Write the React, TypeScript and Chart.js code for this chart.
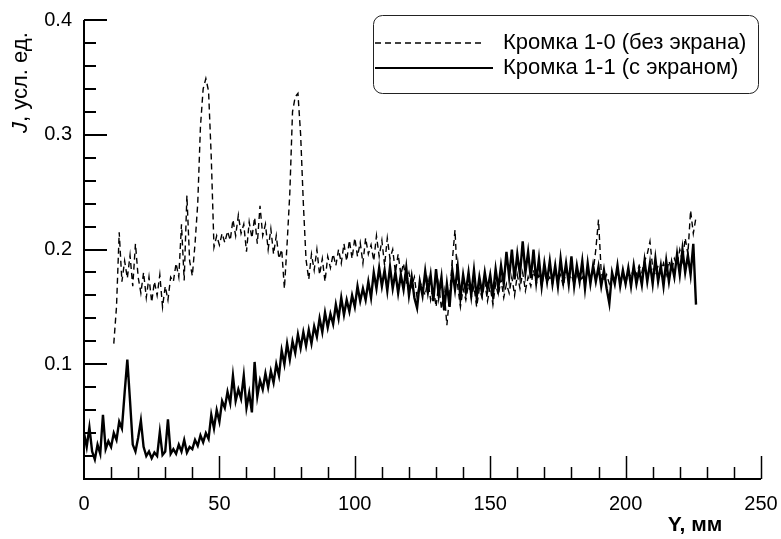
import { useEffect, useRef } from "react";
import { Chart, registerables } from "chart.js";

Chart.register(...registerables);

// Y position (mm) of first sample of each series, and sampling step (mm)
const solidStartMm = 0;
const dashedStartMm = 11;
const stepMm = 1;

// Кромка 1-1 (с экраном), J values at 0,1,2,... mm
const solidValues = [
  0.040, 0.028, 0.045, 0.024, 0.017, 0.030, 0.022, 0.056, 0.026, 0.033,
  0.028, 0.040, 0.034, 0.050, 0.044, 0.075, 0.104, 0.068, 0.030, 0.024,
  0.036, 0.051, 0.028, 0.020, 0.024, 0.018, 0.023, 0.020, 0.041, 0.021,
  0.024, 0.052, 0.022, 0.026, 0.022, 0.030, 0.024, 0.034, 0.023, 0.028,
  0.026, 0.034, 0.029, 0.038, 0.032, 0.040, 0.035, 0.056, 0.044, 0.060,
  0.050, 0.068, 0.062, 0.076, 0.066, 0.090, 0.068, 0.078, 0.070, 0.090,
  0.062, 0.075, 0.058, 0.102, 0.072, 0.086, 0.078, 0.092, 0.080, 0.094,
  0.084, 0.100, 0.090, 0.112, 0.100, 0.118, 0.104, 0.120, 0.110, 0.126,
  0.114, 0.128, 0.116, 0.130, 0.118, 0.133, 0.124, 0.140, 0.128, 0.145,
  0.132, 0.144, 0.135, 0.152, 0.140, 0.158, 0.143, 0.156, 0.146, 0.160,
  0.150, 0.168, 0.155, 0.166, 0.156, 0.172, 0.158, 0.180, 0.166, 0.184,
  0.168, 0.182, 0.164, 0.185, 0.166, 0.180, 0.162, 0.178, 0.165, 0.184,
  0.160, 0.176, 0.158, 0.149, 0.172, 0.160, 0.181, 0.163, 0.178, 0.155,
  0.183, 0.160, 0.176, 0.147, 0.170, 0.150, 0.182, 0.165, 0.185, 0.158,
  0.178, 0.163, 0.180, 0.160, 0.182, 0.158, 0.176, 0.162, 0.180, 0.165,
  0.178, 0.160, 0.183, 0.166, 0.186, 0.170, 0.198, 0.176, 0.200, 0.174,
  0.196, 0.178, 0.207, 0.180, 0.198, 0.175, 0.200, 0.172, 0.192, 0.168,
  0.188, 0.172, 0.190, 0.170, 0.186, 0.168, 0.192, 0.172, 0.188, 0.170,
  0.194, 0.168, 0.186, 0.172, 0.190, 0.166, 0.188, 0.170, 0.186, 0.172,
  0.185, 0.168, 0.182, 0.166, 0.153, 0.180, 0.170, 0.186, 0.168, 0.182,
  0.170, 0.184, 0.168, 0.186, 0.170, 0.182, 0.169, 0.190, 0.172, 0.188,
  0.170, 0.192, 0.172, 0.186, 0.168, 0.190, 0.172, 0.188, 0.176, 0.196,
  0.178, 0.200, 0.180, 0.195, 0.178, 0.205, 0.152,
];

// Кромка 1-0 (без экрана), J values at 11,12,13,... mm
const dashedValues = [
  0.118, 0.150, 0.215, 0.172, 0.190, 0.175, 0.195, 0.168, 0.205, 0.176,
  0.162, 0.180, 0.158, 0.176, 0.154, 0.172, 0.160, 0.178, 0.150, 0.168,
  0.156, 0.176, 0.172, 0.188, 0.176, 0.222, 0.173, 0.247, 0.190, 0.177,
  0.205, 0.240, 0.307, 0.340, 0.349, 0.338, 0.280, 0.202, 0.212, 0.204,
  0.214, 0.206, 0.216, 0.208, 0.226, 0.212, 0.230, 0.214, 0.222, 0.198,
  0.224, 0.210, 0.228, 0.205, 0.238, 0.212, 0.222, 0.200, 0.218, 0.196,
  0.212, 0.192, 0.200, 0.166, 0.205, 0.249, 0.320, 0.333, 0.336, 0.300,
  0.240, 0.191, 0.174, 0.196, 0.182, 0.200, 0.178, 0.192, 0.172, 0.194,
  0.184, 0.196, 0.186, 0.200, 0.188, 0.205, 0.190, 0.208, 0.192, 0.210,
  0.194, 0.206, 0.188, 0.210, 0.196, 0.204, 0.190, 0.212, 0.194, 0.208,
  0.186, 0.210, 0.192, 0.200, 0.180, 0.196, 0.178, 0.188, 0.170, 0.180,
  0.168, 0.176, 0.158, 0.172, 0.166, 0.160, 0.174, 0.156, 0.168, 0.150,
  0.170, 0.148, 0.164, 0.134, 0.160, 0.190, 0.217, 0.168, 0.150, 0.166,
  0.156, 0.170, 0.158, 0.168, 0.150, 0.166, 0.158, 0.172, 0.155, 0.168,
  0.152, 0.170, 0.160, 0.174, 0.158, 0.170, 0.162, 0.176, 0.160, 0.178,
  0.166, 0.180, 0.164, 0.176, 0.168, 0.182, 0.170, 0.178, 0.168, 0.180,
  0.172, 0.176, 0.170, 0.182, 0.172, 0.178, 0.168, 0.182, 0.174, 0.178,
  0.170, 0.180, 0.172, 0.176, 0.170, 0.182, 0.174, 0.180, 0.200, 0.226,
  0.180, 0.172, 0.178, 0.170, 0.176, 0.172, 0.180, 0.174, 0.178, 0.170,
  0.180, 0.176, 0.184, 0.178, 0.186, 0.180, 0.190, 0.196, 0.207, 0.184,
  0.178, 0.186, 0.180, 0.188, 0.178, 0.190, 0.182, 0.192, 0.186, 0.200,
  0.190, 0.210, 0.196, 0.234, 0.214, 0.228,
];

const xMin = 0;
const xMax = 250;
const xMajorStep = 50;
const xMinorStep = 10;
const yMin = 0;
const yMax = 0.4;
const yMajorStep = 0.1;
const yMinorStep = 0.02;

const legendLabels = ["Кромка 1-0 (без экрана)", "Кромка 1-1 (с экраном)"];
const xTitle = "Y, мм";
const yTitleItalic = "J";
const yTitleRest = ", усл. ед.";

const FONT = "'Liberation Sans', Arial, sans-serif";

const toPoints = (start: number, vals: number[]) =>
  vals.map((v, i) => ({ x: start + i * stepMm, y: v }));

const decorPlugin = {
  id: "decor",
  afterDraw(chart: any) {
    const { ctx, chartArea } = chart;
    const xs = chart.scales.x;
    const ys = chart.scales.y;
    const left = xs.getPixelForValue(xMin);
    const right = xs.getPixelForValue(xMax);
    const bottom = ys.getPixelForValue(yMin);
    const top = ys.getPixelForValue(yMax);
    ctx.save();
    ctx.strokeStyle = "#000";
    ctx.lineWidth = 2;
    ctx.beginPath();
    ctx.moveTo(left, top);
    ctx.lineTo(left, bottom);
    ctx.lineTo(right, bottom);
    ctx.stroke();

    // x ticks (inside, pointing up)
    ctx.lineWidth = 1.5;
    const nx = Math.round((xMax - xMin) / xMinorStep);
    for (let k = 1; k <= nx; k++) {
      const v = xMin + k * xMinorStep;
      const px = Math.round(xs.getPixelForValue(v)) + 0.5;
      const major = Math.abs(v / xMajorStep - Math.round(v / xMajorStep)) < 1e-6;
      const len = major ? 23 : 12;
      ctx.beginPath();
      ctx.moveTo(px, bottom);
      ctx.lineTo(px, bottom - len);
      ctx.stroke();
    }
    // y ticks (inside, pointing right)
    ctx.lineWidth = 2;
    const ny = Math.round((yMax - yMin) / yMinorStep);
    for (let k = 1; k <= ny; k++) {
      const v = yMin + k * yMinorStep;
      const py = Math.round(ys.getPixelForValue(v));
      const major = k % Math.round(yMajorStep / yMinorStep) === 0;
      const len = major ? 23 : 12;
      ctx.beginPath();
      ctx.moveTo(left, py);
      ctx.lineTo(left + len, py);
      ctx.stroke();
    }

    // y title (rotated)
    ctx.fillStyle = "#000";
    ctx.save();
    ctx.translate(left - 63, top + 113);
    ctx.rotate(-Math.PI / 2);
    ctx.textBaseline = "middle";
    ctx.textAlign = "left";
    ctx.font = `italic 22px ${FONT}`;
    ctx.fillText(yTitleItalic, 0, 0);
    const w = ctx.measureText(yTitleItalic).width;
    ctx.font = `22px ${FONT}`;
    ctx.fillText(yTitleRest, w, 0);
    ctx.restore();

    // x title
    ctx.font = `bold 21px ${FONT}`;
    ctx.textAlign = "center";
    ctx.textBaseline = "middle";
    ctx.fillText(xTitle, right - 66, bottom + 46);

    // legend box
    const bx = chartArea.right - 388;
    const by = chartArea.top - 5;
    const bw = 385;
    const bh = 78;
    ctx.lineWidth = 1;
    ctx.strokeStyle = "#222";
    ctx.beginPath();
    (ctx as any).roundRect(bx + 0.5, by + 0.5, bw, bh, 9);
    ctx.stroke();

    ctx.strokeStyle = "#000";
    ctx.lineWidth = 1.3;
    ctx.setLineDash([6, 4]);
    ctx.beginPath();
    ctx.moveTo(bx + 2, by + 28);
    ctx.lineTo(bx + 108, by + 28);
    ctx.stroke();
    ctx.setLineDash([]);
    ctx.lineWidth = 2;
    ctx.beginPath();
    ctx.moveTo(bx + 2, by + 53);
    ctx.lineTo(bx + 120, by + 53);
    ctx.stroke();

    ctx.font = `22px ${FONT}`;
    ctx.textAlign = "left";
    ctx.textBaseline = "middle";
    ctx.fillText(legendLabels[0], bx + 130, by + 28);
    ctx.fillText(legendLabels[1], bx + 130, by + 53);
    ctx.restore();
  },
};

export default function App() {
  const ref = useRef<HTMLCanvasElement | null>(null);
  useEffect(() => {
    if (!ref.current) return;
    const chart = new Chart(ref.current, {
      type: "line",
      data: {
        datasets: [
          {
            label: legendLabels[0],
            data: toPoints(dashedStartMm, dashedValues),
            borderColor: "#000",
            borderWidth: 1.4,
            borderDash: [6, 4],
            pointRadius: 0,
            tension: 0,
            order: 1,
          },
          {
            label: legendLabels[1],
            data: toPoints(solidStartMm, solidValues),
            borderColor: "#000",
            borderWidth: 2.4,
            pointRadius: 0,
            tension: 0,
            order: 0,
          },
        ],
      },
      options: {
        animation: false,
        responsive: false,
        devicePixelRatio: 1,
        parsing: false,
        layout: { padding: { left: 0, top: 20, right: 20, bottom: 0 } },
        plugins: {
          legend: { display: false },
          tooltip: { enabled: false },
          title: { display: false },
        },
        scales: {
          x: {
            type: "linear",
            min: xMin,
            max: xMax,
            grid: { display: false, drawTicks: false },
            border: { display: false },
            ticks: {
              stepSize: xMajorStep,
              color: "#000",
              padding: 13,
              maxRotation: 0,
              font: { family: FONT, size: 20 },
              callback: (v: any) => String(Math.round(Number(v))),
            },
            afterFit: (s: any) => {
              s.height = 60;
              s.paddingLeft = 0;
              s.paddingRight = 0;
            },
          },
          y: {
            type: "linear",
            min: yMin,
            max: yMax,
            grid: { display: false, drawTicks: false },
            border: { display: false },
            ticks: {
              stepSize: yMajorStep,
              color: "#000",
              padding: 12,
              font: { family: FONT, size: 20 },
              callback: (v: any) => (Number(v) < 1e-9 ? "" : Number(v).toFixed(1)),
            },
            afterFit: (s: any) => {
              s.width = 84;
              s.paddingTop = 0;
              s.paddingBottom = 0;
            },
          },
        },
      },
      plugins: [decorPlugin],
    });
    return () => chart.destroy();
  }, []);
  return (
    <div style={{ position: "absolute", left: 0, top: 0, width: 781, height: 539, background: "#fff" }}>
      <canvas ref={ref} width={781} height={539} />
    </div>
  );
}
